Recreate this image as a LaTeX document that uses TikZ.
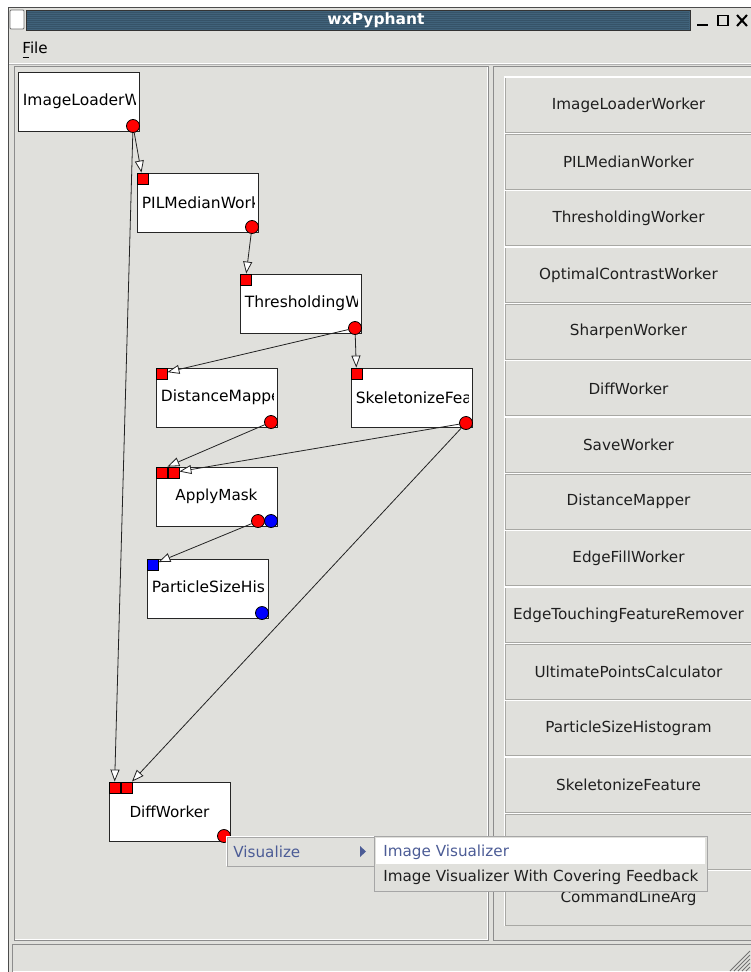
\documentclass[tikz,border=0pt]{standalone}
\usepackage{fontspec}
\setmainfont{DejaVu Sans}
\usetikzlibrary{arrows.meta}

\definecolor{guigray}{RGB}{224,224,220}
\definecolor{titleblue}{RGB}{64,98,122}
\definecolor{menublue}{RGB}{76,92,150}
\definecolor{btnedge}{RGB}{168,168,164}
\definecolor{wirecol}{RGB}{35,35,35}

\tikzset{every picture/.style={line width=0.75pt},
  wbox/.style={draw=black!85, fill=white, line width=1, minimum width=121, minimum height=59, inner sep=0},
  inport/.style={draw=black, fill=red, line width=0.8, minimum size=11, inner sep=0},
  outport/.style={circle, draw=black, fill=red, line width=0.8, minimum size=13, inner sep=0},
  wire/.style={draw=wirecol, line width=0.8, -{Triangle[length=12pt, width=9pt, fill=white]}},
  listbtn/.style={draw=btnedge, fill=guigray, line width=1.2, minimum width=247, minimum height=55, inner sep=0, text=black!88},
  menubox/.style={draw=black!35, fill=guigray, inner sep=0}
}

% worker caption, cut off at the right edge of its box
\newcommand{\workerlabel}[2]{%
  \begin{scope}
    \clip ([xshift=1pt]#1.north west) rectangle ([xshift=-4pt]#1.south east);
    \node[anchor=west, inner sep=0, font=\fontsize{15.5}{18}\selectfont] (#1-text) at ([xshift=5pt]#1.west) {#2};
  \end{scope}}

\begin{document}
\begin{tikzpicture}[x=1pt,y=1pt,yscale=-1,xscale=1, font=\fontsize{15.2}{18}\selectfont]
	\useasboundingbox (0,0) rectangle (750,972);
	\fill[white] (0,0) rectangle (750,972);

	%Shape: Window
	\draw[fill=guigray, draw=black!70] (8,7) rectangle (760,990);
	%Shape: Title bar
	\draw[fill=white, draw=black!55, rounded corners=1] (10,10) rectangle (24,29);
	\draw[fill=titleblue, draw=black!80] (26,10) rectangle (690,30);
	\foreach \y in {12,14,...,28} \draw[titleblue!85!black, line width=0.4] (27,\y) -- (689,\y);
	% Text Node
	\node[text=white, font=\fontsize{15.5}{18}\selectfont\bfseries] (title) at (376,20) {wxPyphant};
	%Shape: window buttons
	\draw[line width=2] (697,25) -- (708,25);
	\draw[line width=1.3] (718,15.5) rectangle (728,25.5);
	\draw[line width=2] (737,15) -- (747,26) (747,15) -- (737,26);

	% Text Node
	\node[anchor=west, inner sep=0] (filemenu) at (22,48) {File};
	\draw[line width=0.6] (22.5,57) -- (29,57);
	%Straight Lines
	\draw[white] (9,63) -- (760,63);
	\draw[black!30] (9,64.5) -- (760,64.5);

	%Shape: Panels
	\draw[draw=black!45] (14,66) rectangle (488,940);
	\draw[white] (15,939) -| (487,67);
	\draw[draw=black!45] (493,66) rectangle (760,940);
	\draw[draw=black!45] (12,944) rectangle (760,980);
	\draw[white] (13,971) -- (760,971);
	\foreach \d in {4,8,...,20} \draw[black!55] (750-\d,971) -- (750,971-\d);

	%Shape: list of workers
	\foreach \lbl [count=\i from 0] in {ImageLoaderWorker, PILMedianWorker, ThresholdingWorker,
	    OptimalContrastWorker, SharpenWorker, DiffWorker, SaveWorker, DistanceMapper,
	    EdgeFillWorker, EdgeTouchingFeatureRemover, UltimatePointsCalculator,
	    ParticleSizeHistogram, SkeletonizeFeature, {}, CommandLineArg}
	{
	  \node[listbtn] (btn\i) at (628.5,105+56.67*\i) {\lbl};
	  \draw[white, line width=1.2] (btn\i.south west) |- (btn\i.north east);
	}

	%Shape: Worker boxes
	\node[wbox] (il) at (78.5,101.5) {};
	\node[wbox] (pil) at (197.5,202.5) {};
	\node[wbox] (th) at (300.5,303.5) {};
	\node[wbox] (dm) at (216.5,397.5) {};
	\node[wbox] (sk) at (411.5,397.5) {};
	\node[wbox] (am) at (216.5,496.5) {};
	\node[wbox] (ps) at (207.5,588.5) {};
	\node[wbox] (dw) at (169.5,811.5) {};

	% Text Node
	\workerlabel{il}{ImageLoaderWorker}
	\workerlabel{pil}{PILMedianWorker}
	\workerlabel{th}{ThresholdingWorker}
	\workerlabel{dm}{DistanceMapper}
	\workerlabel{sk}{SkeletonizeFeature}
	\workerlabel{ps}{ParticleSizeHistogram}
	\node (am-text) at (am) {ApplyMask};
	\node (dw-text) at (dw) {DiffWorker};

	%Shape: Sockets
	\node[inport] (pil-in) at (142.5,178.5) {};
	\node[inport] (th-in) at (245.5,279.5) {};
	\node[inport] (dm-in) at (161.5,373.5) {};
	\node[inport] (sk-in) at (356.5,373.5) {};
	\node[inport] (am-in1) at (161.5,472.5) {};
	\node[inport] (am-in2) at (173.5,472.5) {};
	\node[inport, fill=blue] (ps-in) at (152.5,564.5) {};
	\node[inport] (dw-in1) at (114.5,787.5) {};
	\node[inport] (dw-in2) at (126.5,787.5) {};

	%Shape: Plugs
	\node[outport] (il-out) at (133,126) {};
	\node[outport] (pil-out) at (252,227) {};
	\node[outport] (th-out) at (355,328) {};
	\node[outport] (dm-out) at (271,422) {};
	\node[outport] (sk-out) at (466,423) {};
	\node[outport] (am-out1) at (258,521) {};
	\node[outport, fill=blue] (am-out2) at (271,521) {};
	\node[outport, fill=blue] (ps-out) at (262,613) {};
	\node[outport] (dw-out) at (224,836) {};

	%Straight Lines
	\draw[wire] (il-out) -- (pil-in);
	\draw[wire] (il-out) -- (dw-in1);
	\draw[wire] (pil-out) -- (th-in);
	\draw[wire] (th-out) -- (dm-in);
	\draw[wire] (th-out) -- (sk-in);
	\draw[wire] (dm-out) -- (am-in1.north east);
	\draw[wire] (sk-out) -- (am-in2);
	\draw[wire] (sk-out) -- (dw-in2);
	\draw[wire] (am-out1) -- (ps-in);

	%Shape: Popup menu
	\node[menubox, minimum width=148, minimum height=29] (vismenu) at (301,851.5) {};
	\draw[white] (vismenu.south west) |- (vismenu.north east);
	\node[anchor=west, text=menublue, inner sep=0] (vislabel) at (233,852) {Visualize};
	\fill[menublue] (360,846) -- (366,851.5) -- (360,857) -- cycle;
	\node[menubox, minimum width=333, minimum height=55] (submenu) at (540.5,863.5) {};
	\node[fill=white, minimum width=329, minimum height=26, inner sep=0] (subhl) at (540.5,851) {};
	\node[anchor=west, text=menublue, inner sep=0] (item1) at (383,852) {Image Visualizer};
	\node[anchor=west, text=black!88, inner sep=0] (item2) at (383,877) {Image Visualizer With Covering Feedback};

\end{tikzpicture}
\end{document}
